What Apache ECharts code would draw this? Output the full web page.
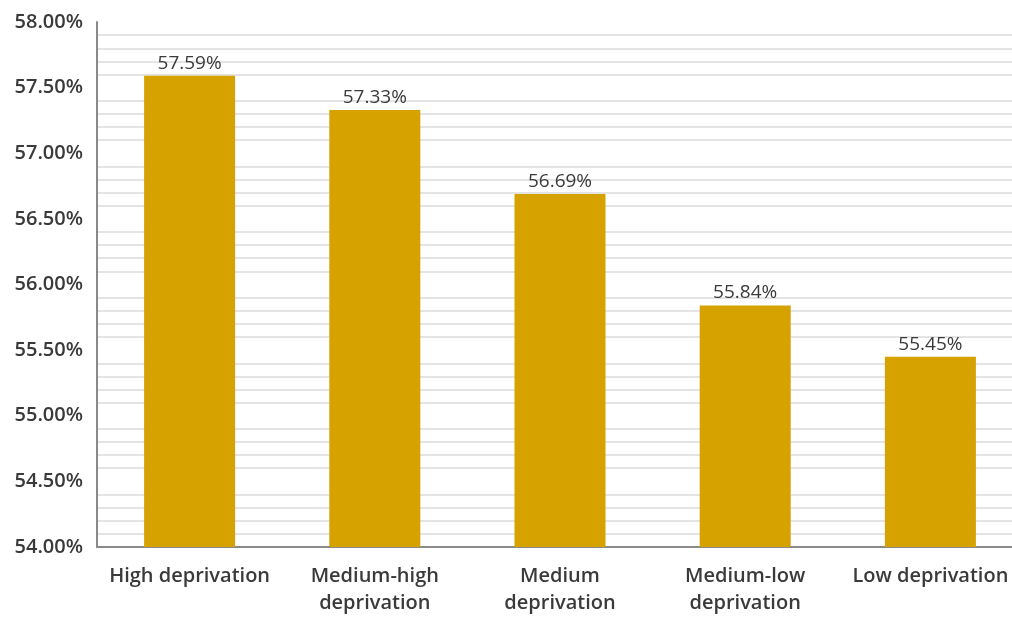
<!DOCTYPE html>
<html>
<head>
<meta charset="utf-8">
<script src="https://cdn.jsdelivr.net/npm/echarts@6/dist/echarts.min.js"></script>
<style>html,body{margin:0;padding:0;background:#fff;overflow:hidden;width:1012px;height:617px;}
#wrap{position:relative;width:1012px;height:617px;overflow:hidden;}
#c{position:absolute;left:0;top:0;width:1023px;height:617px;}</style>
</head>
<body>
<div id="wrap"><div id="c"></div></div>
<script>
const categories = ['High deprivation', 'Medium-high\ndeprivation', 'Medium\ndeprivation', 'Medium-low\ndeprivation', 'Low deprivation'];
const values = [57.59, 57.33, 56.69, 55.84, 55.45];
const yMin = 54, yMax = 58, yStep = 0.5;

const chart = echarts.init(document.getElementById('c'));
chart.setOption({
  animation: false,
  grid: { left: 97, right: 0, top: 22, bottom: 67, containLabel: false },
  xAxis: {
    type: 'category',
    data: categories,
    axisLine: { lineStyle: { color: '#8a8a8a', width: 2 } },
    axisTick: { show: false },
    axisLabel: { color: '#3a3a3a', fontFamily: 'Open Sans', fontSize: 20, fontWeight: 600, lineHeight: 27, margin: 16, interval: 0 }
  },
  yAxis: {
    type: 'value',
    min: yMin, max: yMax, interval: yStep,
    axisLine: { show: true, lineStyle: { color: '#8a8a8a', width: 2 } },
    axisTick: { show: false },
    splitLine: { show: false },
    minorTick: { show: false, splitNumber: 5 },
    minorSplitLine: { show: true, lineStyle: { color: '#e4e4e4', width: 2 } },
    axisLabel: { color: '#3a3a3a', fontFamily: 'Open Sans', fontSize: 20, fontWeight: 600, margin: 14,
      formatter: v => v.toFixed(2) + '%' }
  },
  series: [{
    type: 'bar',
    data: values,
    barWidth: 91,
    itemStyle: { color: '#D5A200' },
    label: { show: true, position: 'top', distance: 3, color: '#3a3a3a', fontFamily: 'Open Sans', fontSize: 19, fontWeight: 500,
      formatter: p => p.value.toFixed(2) + '%' }
  }]
});
</script>
</body>
</html>
